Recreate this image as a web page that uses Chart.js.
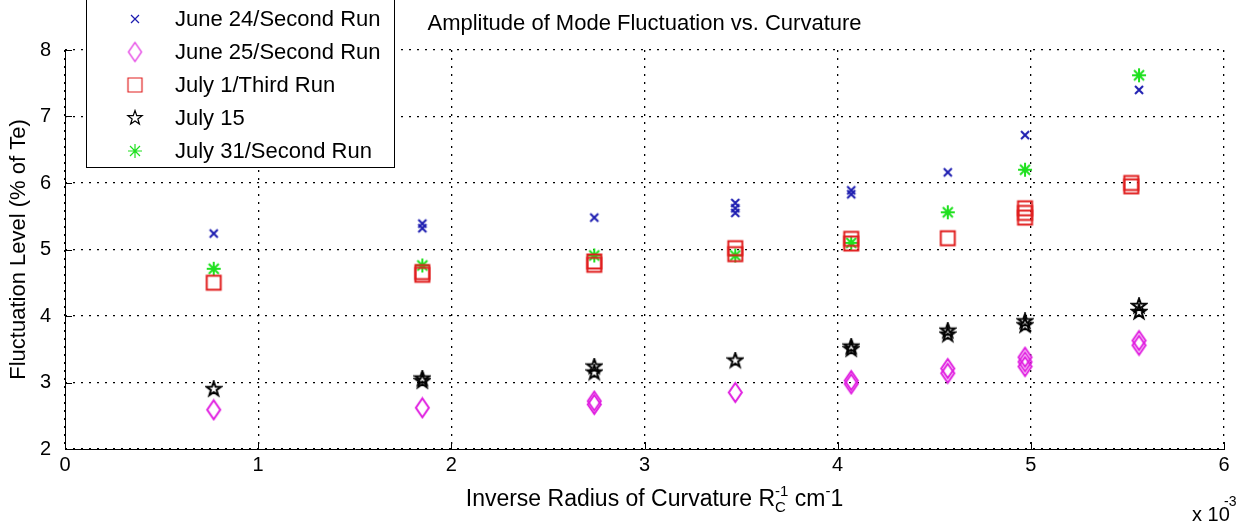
<!DOCTYPE html>
<html>
<head>
<meta charset="utf-8">
<script src="https://cdn.jsdelivr.net/npm/chart.js@4.4.1/dist/chart.umd.min.js"></script>
<style>
  html, body { margin: 0; padding: 0; background: #fff; }
  #wrap { width: 1239px; height: 529px; }
</style>
</head>
<body>
<div id="wrap"><canvas id="chart" width="1239" height="529"></canvas></div>
<script>
// x values are in units of 10^-3 cm^-1 (axis carries the "x 10^-3" multiplier)
const xTicks = [0, 1, 2, 3, 4, 5, 6];
const yTicks = [2, 3, 4, 5, 6, 7, 8];

const seriesNames = ['June 24/Second Run', 'June 25/Second Run', 'July 1/Third Run', 'July 15', 'July 31/Second Run'];

const june24X = [0.77, 1.85, 1.85, 2.74, 3.47, 3.47, 3.47, 4.07, 4.07, 4.57, 4.97, 5.56];
const june24Y = [5.24, 5.32, 5.39, 5.48, 5.55, 5.62, 5.70, 5.83, 5.89, 6.16, 6.72, 7.40];

const june25X = [0.77, 1.85, 2.74, 2.74, 3.47, 4.07, 4.07, 4.57, 4.57, 4.97, 4.97, 4.97, 5.56, 5.56];
const june25Y = [2.59, 2.62, 2.67, 2.72, 2.85, 2.98, 3.03, 3.14, 3.21, 3.24, 3.31, 3.38, 3.56, 3.63];

const july1X = [0.77, 1.85, 1.85, 2.74, 2.74, 3.47, 3.47, 4.07, 4.07, 4.57, 4.97, 4.97, 4.97, 5.52, 5.52];
const july1Y = [4.50, 4.62, 4.66, 4.77, 4.82, 4.93, 5.02, 5.09, 5.16, 5.17, 5.48, 5.55, 5.62, 5.95, 6.00];

const july15X = [0.77, 1.85, 1.85, 2.74, 2.74, 3.47, 4.07, 4.07, 4.57, 4.57, 4.97, 4.97, 5.56, 5.56];
const july15Y = [2.90, 3.02, 3.06, 3.15, 3.24, 3.33, 3.50, 3.54, 3.72, 3.78, 3.86, 3.92, 4.06, 4.15];

const july31X = [0.77, 1.85, 2.74, 3.47, 4.07, 4.57, 4.97, 5.56];
const july31Y = [4.71, 4.76, 4.91, 4.91, 5.10, 5.56, 6.20, 7.62];

const FONT = '"Liberation Sans", Arial, Helvetica, sans-serif';

// marker images in the MATLAB style
function makeMarker(kind, color, lw) {
  const sz = { x: [12, 12], diamond: [17, 23], square: [19, 19], star: [18, 18], asterisk: [18, 18] }[kind];
  const c = document.createElement('canvas');
  c.width = sz[0];
  c.height = sz[1];
  const g = c.getContext('2d');
  const cx = sz[0] / 2, cy = sz[1] / 2;
  g.strokeStyle = color;
  g.lineWidth = lw;
  g.beginPath();
  if (kind === 'x') {
    g.moveTo(cx - 4, cy - 4); g.lineTo(cx + 4, cy + 4);
    g.moveTo(cx + 4, cy - 4); g.lineTo(cx - 4, cy + 4);
  } else if (kind === 'diamond') {
    g.moveTo(cx, cy - 9.5); g.lineTo(cx + 6.5, cy); g.lineTo(cx, cy + 9.5); g.lineTo(cx - 6.5, cy); g.closePath();
  } else if (kind === 'square') {
    g.rect(cx - 7, cy - 7, 14, 14);
  } else if (kind === 'star') {
    for (let i = 0; i < 10; i++) {
      const r = i % 2 === 0 ? 7.5 : 3;
      const a = -Math.PI / 2 + i * Math.PI / 5;
      const px = cx + r * Math.cos(a), py = cy + r * Math.sin(a);
      if (i === 0) g.moveTo(px, py); else g.lineTo(px, py);
    }
    g.closePath();
  } else if (kind === 'asterisk') {
    g.moveTo(cx, cy - 7); g.lineTo(cx, cy + 7);
    g.moveTo(cx - 7, cy); g.lineTo(cx + 7, cy);
    g.moveTo(cx - 5, cy - 5); g.lineTo(cx + 5, cy + 5);
    g.moveTo(cx + 5, cy - 5); g.lineTo(cx - 5, cy + 5);
  }
  g.stroke();
  return c;
}

const markerKinds = ['x', 'diamond', 'square', 'star', 'asterisk'];
const markerColors = ['#1c1cb0', '#e01ee0', '#e01e1e', '#000000', '#1ee01e'];
const markers = markerKinds.map((k, i) => makeMarker(k, markerColors[i], 2));
const legendMarkers = markerKinds.map((k, i) => makeMarker(k, markerColors[i], 1.2));

function toPoints(xs, ys) {
  return xs.map((x, i) => ({ x: x, y: ys[i] }));
}

const seriesData = [
  toPoints(june24X, june24Y),
  toPoints(june25X, june25Y),
  toPoints(july1X, july1Y),
  toPoints(july15X, july15Y),
  toPoints(july31X, july31Y)
];

// title, x label with sub/superscripts, multiplier, axes, inward ticks, legend
const decorations = {
  id: 'decorations',
  afterDraw(chart) {
    const ctx = chart.ctx;
    const xs = chart.scales.x, ys = chart.scales.y;
    const area = chart.chartArea;
    ctx.save();

    // solid axis lines and inward ticks
    ctx.strokeStyle = '#000';
    ctx.lineWidth = 1;
    ctx.setLineDash([]);
    ctx.beginPath();
    ctx.moveTo(area.left + 0.5, area.top);
    ctx.lineTo(area.left + 0.5, area.bottom + 0.5);
    ctx.lineTo(area.right + 1, area.bottom + 0.5);
    yTicks.forEach(v => {
      const py = Math.round(ys.getPixelForValue(v)) + 0.5;
      ctx.moveTo(area.left, py); ctx.lineTo(area.left + 7, py);
    });
    xTicks.forEach(v => {
      const px = Math.round(xs.getPixelForValue(v)) + 0.5;
      ctx.moveTo(px, area.bottom); ctx.lineTo(px, area.bottom - 7);
    });
    ctx.stroke();

    ctx.fillStyle = '#000';
    ctx.textBaseline = 'alphabetic';

    // plot title
    ctx.font = '22px ' + FONT;
    ctx.textAlign = 'center';
    ctx.fillText('Amplitude of Mode Fluctuation vs. Curvature', (area.left + area.right) / 2, 30);

    // x axis title
    ctx.textAlign = 'left';
    const big = '23px ' + FONT, small = '15px ' + FONT;
    const base = 506;
    ctx.font = big;
    const w1 = ctx.measureText('Inverse Radius of Curvature R').width;
    const w3 = ctx.measureText(' cm').width;
    const w5 = ctx.measureText('1').width;
    ctx.font = small;
    const w2 = Math.max(ctx.measureText('C').width, ctx.measureText('-1').width);
    const w4 = ctx.measureText('-').width;
    let x = (area.left + area.right) / 2 + 10 - (w1 + w2 + w3 + w4 + w5) / 2;
    ctx.font = big;
    ctx.fillText('Inverse Radius of Curvature R', x, base);
    x += w1;
    ctx.font = small;
    ctx.fillText('-1', x, base - 10);
    ctx.fillText('C', x, base + 6);
    x += w2;
    ctx.font = big;
    ctx.fillText(' cm', x, base);
    x += w3;
    ctx.font = small;
    ctx.fillText('-', x, base - 10);
    x += w4;
    ctx.font = big;
    ctx.fillText('1', x, base);

    // multiplier
    ctx.font = '20px ' + FONT;
    ctx.fillText('x 10', 1192, 521);
    ctx.font = '14px ' + FONT;
    ctx.fillText('-3', 1224, 506);

    // legend
    const lg = { left: 86.5, top: -4, right: 394.5, bottom: 167.5, firstRow: 19, rowGap: 33, markX: 135, textX: 175 };
    ctx.fillStyle = '#fff';
    ctx.fillRect(lg.left, lg.top, lg.right - lg.left, lg.bottom - lg.top);
    ctx.strokeStyle = '#000';
    ctx.lineWidth = 1;
    ctx.strokeRect(lg.left, lg.top, lg.right - lg.left, lg.bottom - lg.top);
    ctx.font = '22px ' + FONT;
    ctx.fillStyle = '#000';
    ctx.textBaseline = 'middle';
    seriesNames.forEach((name, i) => {
      const y = lg.firstRow + i * lg.rowGap;
      const m = legendMarkers[i];
      ctx.drawImage(m, lg.markX - m.width / 2, y - m.height / 2);
      ctx.fillText(name, lg.textX, y + 1);
    });
    ctx.restore();
  }
};

const ctx = document.getElementById('chart').getContext('2d');
const chart = new Chart(ctx, {
  type: 'scatter',
  data: {
    datasets: seriesNames.map((name, i) => ({
      label: name,
      data: seriesData[i],
      pointStyle: markers[i],
      pointRadius: 7,
      showLine: false
    }))
  },
  options: {
    responsive: false,
    animation: false,
    devicePixelRatio: 1,
    layout: { padding: { left: 0, right: 15, top: 50, bottom: 0 } },
    plugins: {
      legend: { display: false },
      tooltip: { enabled: false }
    },
    scales: {
      x: {
        type: 'linear',
        min: 0,
        max: 6,
        afterFit(scale) { scale.height = 80; },
        afterBuildTicks(scale) { scale.ticks = xTicks.map(v => ({ value: v })); },
        ticks: { color: '#000', font: { size: 20, family: FONT }, padding: 4, maxRotation: 0 },
        grid: { color: '#000', lineWidth: 1.3, drawTicks: false },
        border: { display: false, dash: [2, 6] }
      },
      y: {
        type: 'linear',
        min: 2,
        max: 8,
        afterFit(scale) { scale.width = 65; },
        afterBuildTicks(scale) { scale.ticks = yTicks.map(v => ({ value: v })); },
        ticks: { color: '#000', font: { size: 20, family: FONT }, padding: 14 },
        grid: { color: '#000', lineWidth: 1.3, drawTicks: false },
        border: { display: false, dash: [2, 6] },
        title: {
          display: true,
          text: 'Fluctuation Level (% of Te)',
          color: '#000',
          font: { size: 22, family: FONT },
          padding: { top: 6, bottom: 0 }
        }
      }
    }
  },
  plugins: [decorations]
});
</script>
</body>
</html>
